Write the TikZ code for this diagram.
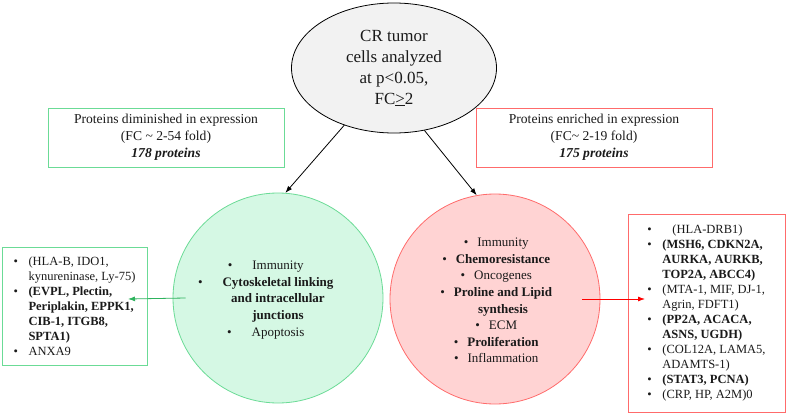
\documentclass[tikz,border=0pt]{standalone}
\usepackage{fontspec}
\setmainfont{Liberation Serif}
\usepackage{xcolor}
\usetikzlibrary{shapes.geometric, arrows.meta, positioning}

\definecolor{grisfond}{HTML}{F2F2F2}
\definecolor{vertbord}{HTML}{6BDB96}
\definecolor{vertfond}{HTML}{D5F8E4}
\definecolor{vertfleche}{HTML}{2EB35E}
\definecolor{rougebord}{HTML}{FF6B6B}
\definecolor{rougefond}{HTML}{FFD3D3}
\definecolor{encre}{HTML}{1A1A1A}

\newcommand{\puce}[1]{\makebox[15pt][l]{\textbullet}#1}
\newcommand{\suite}[1]{\hspace*{15pt}#1}
\newcommand{\pointv}[1]{\llap{\textbullet\hspace{20pt}}#1}
\newcommand{\pointr}[1]{\llap{\textbullet\hspace{9pt}}#1}

\begin{document}
\begin{tikzpicture}[x=1pt, y=-1pt, text=encre, line width=0.8pt,
    depart/.style={ellipse, draw, fill=grisfond, minimum width=205pt, minimum height=130pt,
      inner sep=0pt, align=center, font=\fontsize{17}{21}\selectfont},
    entete/.style={draw, minimum width=236pt, minimum height=59pt, inner sep=0pt,
      align=center, font=\fontsize{13.6}{17}\selectfont},
    groupe/.style={circle, draw, minimum size=210pt, inner sep=0pt},
    contenu/.style={align=center, font=\fontsize{13}{16.6}\selectfont},
    liste/.style={draw, inner sep=0pt, align=left, font=\fontsize{12.5}{15}\selectfont},
    fleche/.style={-{Latex[length=7pt,width=5pt]}}
  ]
  \useasboundingbox (0,0) rectangle (787,415);

  % Noeud de départ et en-têtes
  \node[depart] (cr) at (394,68) {CR tumor\\cells analyzed\\at p<0.05,\\FC\underline{>}2};
  \node[entete, draw=vertbord] (dim) at (166,137.5)
    {Proteins diminished in expression\\(FC \textasciitilde{} 2-54 fold)\\\textbf{\textit{178 proteins}}};
  \node[entete, draw=rougebord] (enr) at (594,137.5)
    {Proteins enriched in expression\\(FC\textasciitilde{} 2-19 fold)\\\textbf{\textit{175 proteins}}};

  % Les deux groupes
  \node[groupe, draw=vertbord, fill=vertfond] (gv) at (278,298) {};
  \node[contenu] (tv) at (278,300) {\pointv{Immunity}\\
    \pointv{\textbf{Cytoskeletal linking}}\\
    \textbf{and intracellular}\\
    \textbf{junctions}\\
    \pointv{Apoptosis}};
  \node[groupe, draw=rougebord, fill=rougefond] (gr) at (495,299) {};
  \node[contenu] (tr) at (503,300.5) {\pointr{Immunity}\\
    \pointr{\textbf{Chemoresistance}}\\
    \pointr{Oncogenes}\\
    \pointr{\textbf{Proline and Lipid}}\\
    \textbf{synthesis}\\
    \pointr{ECM}\\
    \pointr{\textbf{Proliferation}}\\
    \pointr{Inflammation}};

  % Listes de protéines
  \node[liste, draw=vertbord, minimum width=145pt, minimum height=118pt] (lv) at (74.5,306)
    {\puce{(HLA-B, IDO1,}\\
     \suite{kynureninase, Ly-75)}\\
     \puce{\textbf{(EVPL, Plectin,}}\\
     \suite{\textbf{Periplakin, EPPK1,}}\\
     \suite{\textbf{CIB-1, ITGB8,}}\\
     \suite{\textbf{SPTA1)}}\\
     \puce{ANXA9}};
  \node[liste, draw=rougebord, minimum width=157pt, minimum height=198pt] (lr) at (706.5,313)
    {\puce{\hspace{10pt}(HLA-DRB1)}\\
     \puce{\textbf{(MSH6, CDKN2A,}}\\
     \suite{\textbf{AURKA, AURKB,}}\\
     \suite{\textbf{TOP2A, ABCC4)}}\\
     \puce{(MTA-1, MIF, DJ-1,}\\
     \suite{Agrin, FDFT1)}\\
     \puce{\textbf{(PP2A, ACACA,}}\\
     \suite{\textbf{ASNS, UGDH)}}\\
     \puce{(COL12A, LAMA5,}\\
     \suite{ADAMTS-1)}\\
     \puce{\textbf{(STAT3, PCNA)}}\\
     \puce{(CRP, HP, A2M)0}};

  % Flèches
  \coordinate (pv) at (128,299);
  \coordinate (pr) at (645,299);
  \draw[fleche] (cr.229) -- (gv.86);
  \draw[fleche] (cr.296) -- (gr.100);
  \draw[fleche, vertfleche] ([xshift=13pt]gv.west) -- (pv);
  \draw[fleche, red] ([xshift=-18pt]gr.east) -- (pr);
\end{tikzpicture}
\end{document}
